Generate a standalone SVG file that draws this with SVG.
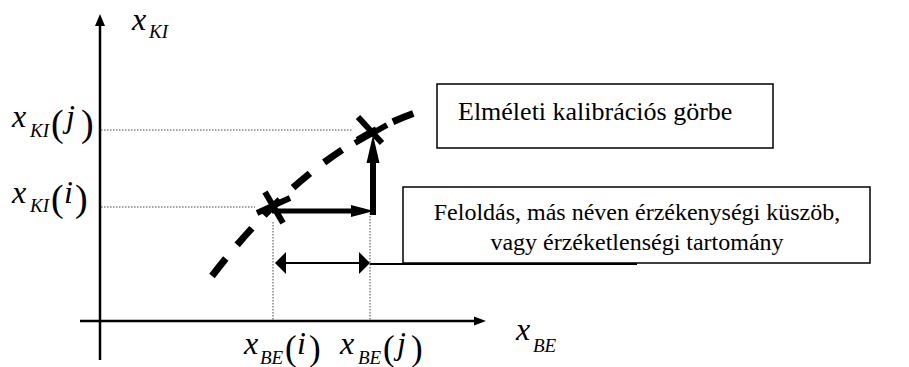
<svg xmlns="http://www.w3.org/2000/svg" width="909" height="367" viewBox="0 0 909 367" font-family="'Liberation Serif', 'Times New Roman', Tinos, 'DejaVu Serif', serif">
<style>
text{font-family:'Liberation Serif','Times New Roman',Tinos,'DejaVu Serif',serif;fill:#000}
.m{font-style:italic;font-size:32px}
.s{font-style:italic;font-size:19px}
.p{font-size:38px}
.pb{font-size:35px}
.lbl{font-size:24px}
.dot{stroke:#444;stroke-width:1;stroke-dasharray:1.5 1.5;fill:none}
.box{fill:#fff;stroke:#000;stroke-width:1.5}
.ax{stroke:#000;stroke-width:2.5;fill:none}
.cross{stroke:#000;stroke-width:6;fill:none}
</style>
<rect width="909" height="367" fill="#fff"/>
<g id="connectors">
<line class="dot" x1="101" y1="130" x2="352" y2="130"/>
<line class="dot" x1="101" y1="207" x2="255" y2="207"/>
<line class="dot" x1="273" y1="222" x2="273" y2="321"/>
<line class="dot" x1="370" y1="210" x2="370" y2="321"/>
<line class="ax" x1="100" y1="360" x2="100" y2="24"/>
<polygon points="100,14 95,26 105,26"/>
<line class="ax" x1="80" y1="321" x2="476" y2="321"/>
<polygon points="486,321 474,316.5 474,325.5"/>
<path d="M212,276 Q314,142.8 430,108" fill="none" stroke="#000" stroke-width="7" stroke-dasharray="22 18"/>
<line x1="272" y1="211" x2="355" y2="211" stroke="#000" stroke-width="5"/>
<polygon points="374,211 351,205 351,217"/>
<line x1="373" y1="215" x2="373" y2="158" stroke="#000" stroke-width="6"/>
<polygon points="373,135 366.5,163 379.5,163"/>
<line x1="284" y1="263" x2="360" y2="263" stroke="#000" stroke-width="2"/>
<polygon points="275,263 286,252 286,274"/>
<polygon points="370,263 359,252 359,274"/>
<line x1="370" y1="264" x2="637" y2="264" stroke="#000" stroke-width="2"/>
</g>
<g id="cross-i">
<line class="cross" x1="265" y1="192" x2="283" y2="223"/>
<line class="cross" x1="257" y1="213" x2="290" y2="198"/>
</g>
<g id="cross-j">
<line class="cross" x1="358" y1="117" x2="382" y2="143"/>
<line class="cross" x1="355" y1="143" x2="387" y2="125"/>
</g>
<g id="box-curve">
<rect class="box" x="437" y="84" width="336" height="64"/>
<text class="lbl" x="458" y="120" style="font-size:26px">Elméleti kalibrációs görbe</text>
</g>
<g id="box-resolution">
<rect class="box" x="403" y="187" width="467" height="76"/>
<text class="lbl" x="637" y="220" text-anchor="middle">Feloldás, más néven érzékenységi küszöb,</text>
<text class="lbl" x="637" y="250" text-anchor="middle">vagy érzéketlenségi tartomány</text>
</g>
<g id="label-xKI">
<text class="m" x="132" y="30">x</text>
<text class="s" x="149" y="38">KI</text>
</g>
<g id="label-xKIj">
<text class="m" x="12" y="127">x</text>
<text class="s" x="30" y="137">KI</text>
<text class="p" x="51" y="136">(</text>
<text class="m" x="66" y="127">j</text>
<text class="p" x="81" y="136">)</text>
</g>
<g id="label-xKIi">
<text class="m" x="12" y="203">x</text>
<text class="s" x="30" y="212">KI</text>
<text class="p" x="51" y="211">(</text>
<text class="m" x="64" y="203">i</text>
<text class="p" x="75" y="211">)</text>
</g>
<g id="label-xBEi">
<text class="m" x="244" y="354">x</text>
<text class="s" x="260" y="364">BE</text>
<text class="pb" x="285" y="360">(</text>
<text class="m" x="297" y="354">i</text>
<text class="pb" x="309" y="360">)</text>
</g>
<g id="label-xBEj">
<text class="m" x="340" y="354">x</text>
<text class="s" x="358" y="364">BE</text>
<text class="pb" x="383" y="360">(</text>
<text class="m" x="397" y="354">j</text>
<text class="pb" x="411" y="360">)</text>
</g>
<g id="label-xBE">
<text class="m" x="516" y="340">x</text>
<text class="s" x="533" y="352">BE</text>
</g>
</svg>
